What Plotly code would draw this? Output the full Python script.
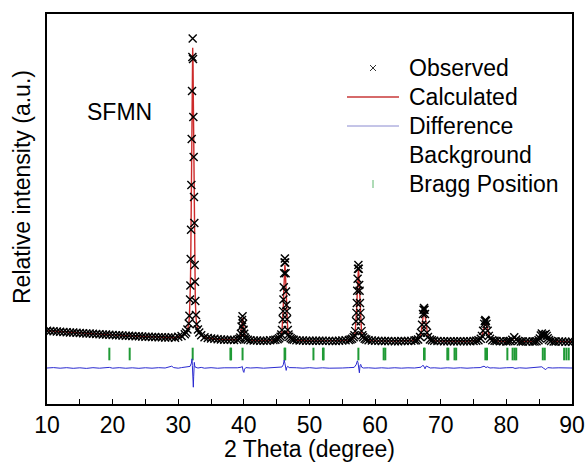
import plotly.graph_objects as go

# ---- Rietveld refinement of SFMN: observed scan (2theta, counts) ----
two_theta = [
    10.0, 10.5, 11.0, 11.5, 12.0, 12.5, 13.0, 13.5, 14.0, 14.5, 15.0, 15.5, 16.0, 16.5,
    17.0, 17.5, 18.0, 18.5, 19.0, 19.5, 20.0, 20.5, 21.0, 21.5, 22.0, 22.5, 23.0, 23.5,
    24.0, 24.5, 25.0, 25.5, 26.0, 26.5, 27.0, 27.5, 28.0, 28.5, 29.0, 29.5, 30.0, 30.5, 31.0,
    31.2, 31.4, 31.6, 31.7, 31.8, 31.85, 31.9, 31.95, 32.0, 32.05, 32.1, 32.15, 32.2,
    32.25, 32.3, 32.35, 32.4, 32.45, 32.5, 32.55, 32.6, 32.7, 32.8, 33.0, 33.2,
    33.5, 34.0, 34.5, 35.0, 35.5, 36.0, 36.5, 37.0, 37.5, 38.0, 38.5, 39.0,
    39.3, 39.45, 39.55, 39.65, 39.72, 39.8, 39.88, 39.95, 40.05, 40.15, 40.3, 40.6,
    41.0, 41.5, 42.0, 42.5, 43.0, 43.5, 44.0, 44.5, 44.8,
    45.15, 45.37, 45.59, 45.7, 45.81, 45.92, 45.97, 46.03, 46.08, 46.14, 46.2, 46.25,
    46.3, 46.36, 46.42, 46.47, 46.53, 46.58, 46.69, 46.8, 46.91, 47.13, 47.35,
    47.6, 48.0, 48.5, 49.0, 49.5, 50.0, 50.5, 51.0, 51.5, 52.0, 52.5, 53.0, 53.5,
    54.0, 54.5, 55.0, 55.5, 56.0,
    56.25, 56.49, 56.73, 56.85, 56.97, 57.09, 57.15, 57.21, 57.27, 57.33, 57.39, 57.45,
    57.51, 57.57, 57.63, 57.69, 57.75, 57.81, 57.93, 58.05, 58.17, 58.41, 58.65,
    59.0, 59.5, 60.0, 60.5, 61.0, 61.5, 62.0, 62.5, 63.0, 63.5, 64.0, 64.5, 65.0, 65.5, 66.0,
    66.25, 66.55, 66.85, 67.0, 67.15, 67.3, 67.375, 67.45, 67.525, 67.6, 67.75, 67.9,
    68.05, 68.35, 68.65,
    69.0, 69.5, 70.0, 70.5, 71.0, 71.5, 72.0, 72.5, 73.0, 73.5, 74.0, 74.5, 75.0,
    75.4, 75.75, 76.1, 76.275, 76.45, 76.625, 76.71, 76.8, 76.89, 76.975, 77.15, 77.325,
    77.5, 77.85, 78.2,
    78.5, 79.0, 79.5, 80.0, 80.3,
    80.6, 80.9, 81.2, 81.5, 81.8,
    82.2, 82.5, 83.0, 83.5, 84.0, 84.3,
    84.6, 84.9, 85.1, 85.25, 85.4, 85.55, 85.7, 85.85, 86.0, 86.15, 86.3, 86.5, 86.8, 87.2,
    87.5, 88.0, 88.5, 89.0, 89.5, 90.0,
]
observed = [
    657, 651, 645, 639, 633, 627, 621, 615, 610, 605, 600, 595, 590, 585,
    580, 575, 570, 565, 560, 557, 550, 545, 541, 536, 532, 530, 524, 520,
    516, 512, 509, 505, 502, 499, 495, 492, 489, 486, 492, 484, 506, 524, 571,
    615, 690, 840, 1030, 1440, 1790, 2450, 3180, 4300, 5450, 6650, 7500, 7960,
    7450, 6000, 5000, 4000, 3350, 2300, 1880, 1400, 1050, 820, 690, 610,
    543, 495, 475, 463, 454, 444, 438, 434, 430, 432, 426, 431,
    448, 490, 579, 764, 924, 1021, 830, 680, 579, 490, 448, 429,
    418, 414, 410, 409, 408, 408, 417, 422, 429,
    446, 467, 508, 560, 673, 941, 1147, 1435, 1744, 2094, 2362, 2465,
    2362, 2094, 1640, 1300, 1147, 941, 673, 560, 508, 467, 446,
    431, 421, 414, 410, 408, 406, 405, 404, 404, 405, 403, 403, 402,
    402, 408, 411, 416, 427,
    438, 457, 495, 543, 647, 894, 1103, 1350, 1654, 1958, 2205, 2300,
    2205, 1800, 1654, 1350, 1103, 894, 647, 543, 495, 457, 438,
    421, 411, 406, 403, 401, 400, 398, 397, 396, 396, 398, 399, 400, 403, 411,
    418, 435, 501, 609, 808, 1074, 1182, 1223, 1182, 1074, 808, 609,
    501, 435, 418,
    407, 400, 397, 395, 394, 393, 392, 392, 391, 393, 394, 396, 399,
    405, 416, 459, 528, 657, 828, 897, 924, 897, 828, 657, 528,
    459, 416, 405,
    399, 394, 391, 389, 392,
    398, 430, 495, 438, 400,
    390, 388, 386, 386, 387, 389,
    395, 418, 465, 535, 585, 548, 522, 555, 578, 528, 468, 423, 398, 390,
    387, 386, 385, 384, 383, 383,
]

# ---- calculated profile ----
calc_theta = [
    10, 11, 12, 13, 14, 15, 16, 17, 18, 19, 20, 21, 22, 23, 24, 25, 26, 27, 28, 29, 29.5,
    30, 30.5, 31,
    31.2, 31.4, 31.6, 31.7, 31.8, 31.85, 31.9, 31.95, 32.0, 32.05, 32.1, 32.15, 32.2,
    32.25, 32.3, 32.35, 32.4, 32.45, 32.5, 32.55, 32.6, 32.7, 32.8, 33.0, 33.2,
    33.5, 34, 34.5, 35, 36, 37, 38, 38.5, 39.0,
    39.3, 39.45, 39.55, 39.65, 39.72, 39.8, 39.88, 39.95, 40.05, 40.15, 40.3, 40.6,
    41, 42, 43, 44, 44.5, 44.8,
    45.15, 45.37, 45.59, 45.7, 45.81, 45.92, 45.97, 46.03, 46.08, 46.14, 46.2, 46.25,
    46.3, 46.36, 46.42, 46.47, 46.53, 46.58, 46.69, 46.8, 46.91, 47.13, 47.35,
    47.6, 48, 48.5, 49, 50, 51, 52, 53, 54, 54.5, 55, 55.5, 56,
    56.25, 56.49, 56.73, 56.85, 56.97, 57.09, 57.15, 57.21, 57.27, 57.33, 57.39, 57.45,
    57.51, 57.57, 57.63, 57.69, 57.75, 57.81, 57.93, 58.05, 58.17, 58.41, 58.65,
    59, 59.5, 60, 61, 62, 63, 64, 65, 65.5, 66,
    66.25, 66.55, 66.85, 67.0, 67.15, 67.3, 67.375, 67.45, 67.525, 67.6, 67.75, 67.9,
    68.05, 68.35, 68.65,
    69, 69.5, 70, 71, 72, 73, 74, 75,
    75.4, 75.75, 76.1, 76.275, 76.45, 76.625, 76.71, 76.8, 76.89, 76.975, 77.15, 77.325,
    77.5, 77.85, 78.2,
    78.5, 79, 80, 80.3,
    80.6, 80.9, 81.2, 81.5, 81.8,
    82.2, 83, 84, 84.3,
    84.6, 84.9, 85.1, 85.25, 85.4, 85.55, 85.7, 85.85, 86.0, 86.15, 86.3, 86.5, 86.8, 87.2,
    87.5, 88, 89, 90,
]
calculated = [
    657, 645, 633, 621, 610, 600, 590, 580, 570, 560, 550, 541, 532, 524, 516, 509, 502,
    495, 489, 484, 483, 505, 522, 568,
    608, 681, 826, 1008, 1407, 1771, 2352, 3151, 4096, 5258, 6420, 7365, 7728,
    7365, 6420, 5258, 4096, 3151, 2352, 1771, 1407, 1008, 826, 681, 608,
    541, 494, 474, 462, 443, 433, 428, 424, 430,
    446, 484, 567, 738, 886, 976, 886, 738, 567, 484, 446, 428,
    417, 410, 408, 416, 421, 428,
    443, 462, 500, 548, 652, 899, 1089, 1355, 1640, 1963, 2210, 2305,
    2210, 1963, 1640, 1355, 1089, 899, 652, 548, 500, 462, 443,
    429, 420, 413, 409, 406, 404, 404, 403, 402, 407, 410, 415, 425,
    436, 453, 489, 534, 631, 863, 1059, 1290, 1575, 1860, 2091, 2180,
    2091, 1860, 1575, 1290, 1059, 863, 631, 534, 489, 453, 436,
    419, 410, 405, 401, 398, 396, 398, 400, 403, 410,
    417, 433, 497, 601, 793, 1049, 1153, 1193, 1153, 1049, 793, 601,
    497, 433, 417,
    405, 399, 396, 394, 392, 391, 394, 398,
    404, 415, 455, 522, 644, 807, 874, 899, 874, 807, 644, 522,
    455, 415, 404,
    398, 393, 389, 391,
    397, 425, 485, 434, 399,
    390, 386, 387, 389,
    394, 414, 458, 524, 572, 540, 514, 545, 565, 520, 461, 418, 396, 389,
    387, 386, 384, 383,
]

# ---- difference (observed - calculated) ----
diff_theta = [
    10, 11, 12, 13, 14, 15, 16, 17, 18, 19, 19.5, 20, 21, 22, 23, 24, 25, 26, 27, 28,
    28.7, 29.0, 29.3, 30, 30.5, 31, 31.5, 31.8, 32.0, 32.1, 32.15, 32.2, 32.25, 32.3,
    32.35, 32.4, 32.45, 32.5, 32.6, 33.0, 33.5, 34, 35, 36, 37, 38, 39, 39.6, 39.75,
    39.9, 40.0, 40.1, 40.3, 41, 42, 43, 44, 45, 45.8, 46.0, 46.15, 46.25, 46.35, 46.45,
    46.55, 46.7, 46.9, 47.5, 48, 49, 50, 51, 52, 53, 54, 55, 56, 56.8, 57.1, 57.3, 57.4,
    57.5, 57.6, 57.7, 57.8, 57.95, 58.2, 59, 60, 61, 62, 63, 64, 65, 66, 67, 67.3, 67.5,
    67.6, 67.8, 68.0, 68.4, 69, 70, 71, 72, 73, 74, 75, 76, 76.6, 76.9, 77.1, 77.5, 78,
    79, 80, 81, 81.3, 82, 83, 84, 85, 85.4, 85.7, 86.0, 86.3, 87, 88, 89, 90,
]
difference = [
    0, 10, -5, 8, -8, 5, -10, 8, -5, 10, 15, -5, 8, -6, 5, -8, 6, -5, 8, 0,
    20, 45, 10, -5, 10, 20, 25, 40, 120, 230, 60, -150, -300, -480,
    -220, 60, 140, 60, 20, 0, 15, -5, 8, -6, 5, 0, 5, 20, 40,
    -80, -110, -30, 10, 0, 8, -5, 6, 0, 25, 80, 200, 120, 30, -60,
    20, 40, 10, 0, 6, -5, 8, -6, 5, -5, 6, 0, 8, 15, 80, 180, 130,
    -40, -120, 60, 90, 20, 0, 5, -6, 5, -5, 6, -4, 5, 0, 20, 70, 20,
    -20, 50, 30, 0, 5, -6, 5, -5, 6, -5, 5, 10, 45, 10, 30, 0, 5,
    -5, 6, 10, -10, 5, -5, 6, 10, 30, -10, -40, 10, 0, 5, -5, 0,
]

# ---- Bragg reflection positions ----
bragg_positions = [
    19.5, 22.6, 32.2, 37.95, 38.05, 39.8, 46.2, 46.3, 50.6, 52.05, 52.15, 57.45,
    61.3, 61.55, 67.45, 67.55, 71.0, 71.15, 72.1, 72.35, 76.8, 77.05, 80.15, 80.95,
    81.25, 81.5, 85.55, 85.85, 88.8, 89.15, 89.5,
]

legend_names = ["Observed", "Calculated", "Difference", "Background", "Bragg Position"]

DIFF_BASE = -275      # vertical offset of the difference curve
BRAGG_LEVEL = 75      # vertical level of the reflection ticks

FONT = "Liberation Sans, Arial, sans-serif"
RED = "#cc2a2a"
BLUE = "#2a2ad0"
GREEN = "#1f9a35"

# plot-area geometry (pixels) used to lay out the key in paper coordinates
W, H = 587, 465
ML, MR, MT, MB = 47, 15, 14, 61
PW, PH = W - ML - MR, H - MT - MB


def px(xp):
    return (xp - ML) / PW


def py(yp):
    return (H - MB - yp) / PH


fig = go.Figure()

fig.add_trace(go.Scatter(
    x=bragg_positions, y=[BRAGG_LEVEL] * len(bragg_positions), mode="markers",
    name=legend_names[4],
    marker=dict(symbol="line-ns", size=9, line=dict(width=2, color=GREEN)),
))
fig.add_trace(go.Scatter(
    x=diff_theta, y=[d + DIFF_BASE for d in difference], mode="lines",
    name=legend_names[2], line=dict(color=BLUE, width=1),
))
fig.add_trace(go.Scatter(
    x=calc_theta, y=calculated, mode="lines", name=legend_names[1],
    line=dict(color=RED, width=1.4),
))
fig.add_trace(go.Scatter(
    x=two_theta, y=observed, mode="markers", name=legend_names[0],
    marker=dict(symbol="x-thin", size=8, line=dict(width=1.4, color="black")),
))

# ---- key: symbols drawn as shapes, labels as annotations ----
key_text_x = 407
key_rows = [68, 97, 126, 155, 184]
sym_l, sym_r, sym_c = 347, 399, 373

shapes = [
    # Observed: small cross
    dict(type="line", xref="paper", yref="paper",
         x0=px(sym_c - 3), x1=px(sym_c + 3), y0=py(key_rows[0] - 3), y1=py(key_rows[0] + 3),
         line=dict(color="#333333", width=1)),
    dict(type="line", xref="paper", yref="paper",
         x0=px(sym_c - 3), x1=px(sym_c + 3), y0=py(key_rows[0] + 3), y1=py(key_rows[0] - 3),
         line=dict(color="#333333", width=1)),
    # Calculated
    dict(type="line", xref="paper", yref="paper",
         x0=px(sym_l), x1=px(sym_r), y0=py(key_rows[1]), y1=py(key_rows[1]),
         line=dict(color="#d66a6a", width=2)),
    # Difference
    dict(type="line", xref="paper", yref="paper",
         x0=px(sym_l), x1=px(sym_r), y0=py(key_rows[2]), y1=py(key_rows[2]),
         line=dict(color="#8a8ad0", width=1)),
    # Bragg Position
    dict(type="line", xref="paper", yref="paper",
         x0=px(sym_c), x1=px(sym_c), y0=py(key_rows[4] - 4), y1=py(key_rows[4] + 4),
         line=dict(color="#5fb86f", width=1)),
]

annotations = [
    dict(text=name, xref="paper", yref="paper", x=px(key_text_x), y=py(row),
         xanchor="left", yanchor="middle", showarrow=False,
         font=dict(family=FONT, size=23, color="black"))
    for name, row in zip(legend_names, key_rows)
]
annotations += [
    dict(text="2 Theta (degree)", xref="paper", yref="paper", x=0.5, y=py(449),
         xanchor="center", yanchor="middle", showarrow=False,
         font=dict(family=FONT, size=23, color="black")),
    dict(text="Relative intensity (a.u.)", xref="paper", yref="paper",
         x=px(22), y=py(187), xanchor="center", yanchor="middle", textangle=-90,
         showarrow=False, font=dict(family=FONT, size=23, color="black")),
    dict(text="SFMN", xref="paper", yref="paper", x=px(119), y=py(112),
         xanchor="center", yanchor="middle", showarrow=False,
         font=dict(family=FONT, size=23, color="black")),
]

fig.update_layout(
    width=W, height=H,
    margin=dict(l=ML, r=MR, t=MT, b=MB),
    paper_bgcolor="white", plot_bgcolor="white",
    font=dict(family=FONT, size=23, color="black"),
    showlegend=False,
    xaxis=dict(
        range=[10, 90], tickvals=[10, 20, 30, 40, 50, 60, 70, 80, 90],
        ticks="inside", ticklen=5, tickwidth=1.3, tickcolor="black",
        minor=dict(ticks="inside", ticklen=5, tickwidth=1.3, tickcolor="black", dtick=5),
        showline=True, linecolor="black", linewidth=1.5, mirror=True,
        showgrid=False, zeroline=False, automargin=False,
        tickfont=dict(family=FONT, size=23, color="black"),
    ),
    yaxis=dict(
        range=[-1175, 8575], showticklabels=False, ticks="",
        showline=True, linecolor="black", linewidth=1.5, mirror=True,
        showgrid=False, zeroline=False, automargin=False,
    ),
    shapes=shapes,
    annotations=annotations,
)

fig.write_html("out.html")
